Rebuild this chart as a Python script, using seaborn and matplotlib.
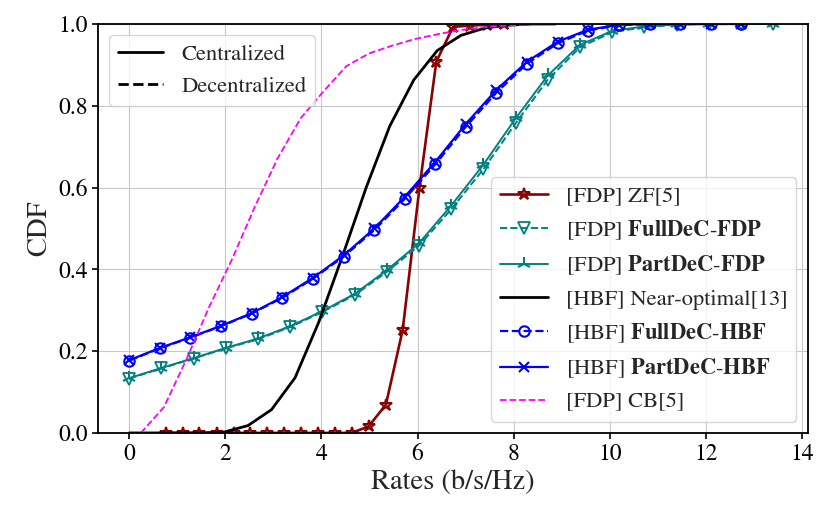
import numpy as np
import pandas as pd
import matplotlib
matplotlib.use("Agg")
import matplotlib.pyplot as plt
from matplotlib.lines import Line2D
import seaborn as sns

# ---------------- data ----------------
zf_x = [0.76, 1.11, 1.46, 1.82, 2.17, 2.52, 2.87, 3.22, 3.58, 3.93, 4.28, 4.63,
        4.98, 5.34, 5.69, 6.04, 6.39, 6.74, 7.10, 7.45, 7.80]
zf_y = [0, 0, 0, 0, 0, 0, 0, 0, 0, 0, 0, 0,
        0.016, 0.069, 0.252, 0.600, 0.908, 0.993, 0.996, 0.998, 1.0]

teal_x = [0.0, 0.67, 1.34, 2.01, 2.68, 3.35, 4.02, 4.69, 5.36, 6.03, 6.70, 7.37,
          8.04, 8.71, 9.38, 10.05, 10.72, 11.39, 12.06, 12.73, 13.40]
fulldec_fdp = [0.133, 0.158, 0.182, 0.207, 0.229, 0.259, 0.296, 0.337, 0.394, 0.458,
               0.547, 0.645, 0.757, 0.864, 0.943, 0.980, 0.992, 0.998, 1.0, 1.0, 1.0]
partdec_fdp = [0.134, 0.159, 0.183, 0.208, 0.231, 0.261, 0.298, 0.340, 0.398, 0.464,
               0.556, 0.656, 0.769, 0.874, 0.949, 0.983, 0.994, 0.999, 1.0, 1.0, 1.0]

black_x = [0.0, 0.49, 0.99, 1.48, 1.97, 2.47, 2.96, 3.45, 3.94, 4.43, 4.93, 5.42,
           5.92, 6.41, 6.90, 7.40, 7.89, 8.38, 8.87]
near_opt = [0, 0, 0, 0, 0.002, 0.018, 0.057, 0.135, 0.270, 0.430, 0.600, 0.750,
            0.863, 0.935, 0.972, 0.990, 0.997, 1.0, 1.0]

blue_x = [0.0, 0.64, 1.27, 1.91, 2.55, 3.18, 3.82, 4.46, 5.10, 5.73, 6.37, 7.00,
          7.64, 8.28, 8.92, 9.55, 10.19, 10.83, 11.46, 12.10, 12.74]
fulldec_hbf = [0.177, 0.207, 0.233, 0.261, 0.292, 0.330, 0.377, 0.431, 0.496, 0.572,
               0.657, 0.748, 0.832, 0.903, 0.953, 0.984, 0.997, 1.0, 1.0, 1.0, 1.0]
partdec_hbf = [0.178, 0.208, 0.234, 0.262, 0.293, 0.332, 0.379, 0.434, 0.500, 0.577,
               0.663, 0.755, 0.839, 0.908, 0.957, 0.986, 0.998, 1.0, 1.0, 1.0, 1.0]

cb_x = [0.24, 0.72, 1.19, 1.67, 2.14, 2.62, 3.09, 3.57, 4.04, 4.52, 4.99, 5.47,
        5.94, 6.42, 6.89, 7.37, 7.84, 8.32, 8.79]
cb_y = [0.0, 0.063, 0.180, 0.310, 0.425, 0.555, 0.672, 0.770, 0.835, 0.897, 0.928,
        0.947, 0.963, 0.975, 0.985, 0.992, 0.996, 0.999, 1.0]

labels = [
    "[FDP] ZF[5]",
    r"[FDP] $\mathbf{FullDeC}$-$\mathbf{FDP}$",
    r"[FDP] $\mathbf{PartDeC}$-$\mathbf{FDP}$",
    "[HBF] Near-optimal[13]",
    r"[HBF] $\mathbf{FullDeC}$-$\mathbf{HBF}$",
    r"[HBF] $\mathbf{PartDeC}$-$\mathbf{HBF}$",
    "[FDP] CB[5]",
]

# ---------------- style ----------------
sns.set_theme(style="ticks")
plt.rcParams["font.family"] = ["STIXGeneral", "DejaVu Serif"]
plt.rcParams["mathtext.fontset"] = "stix"
plt.rcParams["axes.edgecolor"] = "black"
plt.rcParams["axes.linewidth"] = 1.3
plt.rcParams["xtick.color"] = "black"
plt.rcParams["ytick.color"] = "black"
plt.rcParams["xtick.major.width"] = 1.2
plt.rcParams["ytick.major.width"] = 1.2
plt.rcParams["xtick.major.size"] = 4
plt.rcParams["ytick.major.size"] = 4

fig = plt.figure(figsize=(8.31, 5.21), dpi=100)
ax = fig.add_axes([0.118, 0.169, 0.854, 0.785])

common = dict(ax=ax, sort=False, estimator=None)

sns.lineplot(x=zf_x, y=zf_y, color="#8B0000", linestyle="-", linewidth=1.9,
             marker="*", markersize=9, markerfacecolor="none",
             markeredgecolor="#8B0000", markeredgewidth=1.5, label=labels[0], **common)
sns.lineplot(x=teal_x, y=fulldec_fdp, color="#008080", linestyle="--", linewidth=1.4,
             marker="v", markersize=8, markerfacecolor="none",
             markeredgecolor="#008080", markeredgewidth=1.3, label=labels[1], **common)
sns.lineplot(x=teal_x, y=partdec_fdp, color="#008080", linestyle="-", linewidth=1.4,
             marker="2", markersize=10, markerfacecolor="none",
             markeredgecolor="#008080", markeredgewidth=1.5, label=labels[2], **common)
sns.lineplot(x=black_x, y=near_opt, color="black", linestyle="-", linewidth=2.0,
             label=labels[3], **common)
sns.lineplot(x=blue_x, y=fulldec_hbf, color="blue", linestyle="--", linewidth=1.6,
             marker="o", markersize=7.5, markerfacecolor="none",
             markeredgecolor="blue", markeredgewidth=1.5, label=labels[4], **common)
sns.lineplot(x=blue_x, y=partdec_hbf, color="blue", linestyle="-", linewidth=1.6,
             marker="x", markersize=7, markerfacecolor="none",
             markeredgecolor="blue", markeredgewidth=1.5, label=labels[5], **common)
sns.lineplot(x=cb_x, y=cb_y, color="magenta", linestyle="--", linewidth=1.3,
             label=labels[6], **common)

ax.set_xlim(-0.65, 14.12)
ax.set_ylim(0, 1)
ax.set_xticks([0, 2, 4, 6, 8, 10, 12, 14])
ax.set_yticks([0.0, 0.2, 0.4, 0.6, 0.8, 1.0])
ax.set_yticklabels(["0.0", "0.2", "0.4", "0.6", "0.8", "1.0"])
ax.tick_params(labelsize=17)
ax.grid(True, color="#c8c8c8", linewidth=0.8)
ax.set_axisbelow(True)
for s in ax.spines.values():
    s.set_visible(True)
    s.set_color("black")

ax.set_xlabel("Rates (b/s/Hz)", fontsize=20.5)
ax.set_ylabel("CDF", fontsize=20.5)

handles, labs = ax.get_legend_handles_labels()
leg2 = ax.legend(handles, labs, loc="lower right", fontsize=16.2, fancybox=True,
                 framealpha=0.8, edgecolor="#cccccc", labelspacing=0.52,
                 handlelength=2.1)

style_handles = [Line2D([], [], color="black", linestyle="-", linewidth=2.0),
                 Line2D([], [], color="black", linestyle="--", linewidth=2.0)]
leg1 = ax.legend(style_handles, ["Centralized", "Decentralized"], loc="upper left",
                 fontsize=16.2, fancybox=True, framealpha=0.8, edgecolor="#cccccc")
ax.add_artist(leg2)

fig.savefig("out.png", dpi=100)
